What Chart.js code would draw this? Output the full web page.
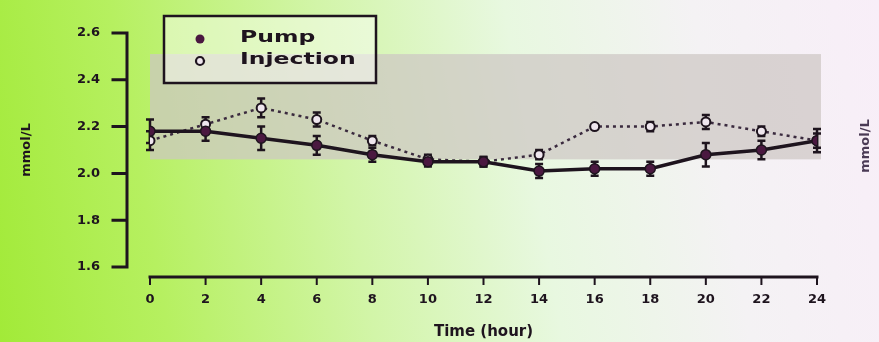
<!DOCTYPE html>
<html>
<head>
<meta charset="utf-8">
<script src="https://cdn.jsdelivr.net/npm/chart.js@4.4.1/dist/chart.umd.min.js"></script>
<style>
  html, body { margin: 0; padding: 0; }
  body {
    width: 879px; height: 342px; overflow: hidden;
    background: linear-gradient(80deg, #a2ea38 0%, #b6f060 18%, #d2f5a8 40%, #e8f8e0 60%, #f4f2f4 80%, #f8eef8 100%);
  }
</style>
</head>
<body>
<canvas id="chart" width="879" height="342"></canvas>
<script>
// datos
const hours = [0, 2, 4, 6, 8, 10, 12, 14, 16, 18, 20, 22, 24];
const xTickLabels = ["0", "2", "4", "6", "8", "10", "12", "14", "16", "18", "20", "22", "24"];
const yTicks = [1.6, 1.8, 2.0, 2.2, 2.4, 2.6];
const yTickLabels = ["1.6", "1.8", "2.0", "2.2", "2.4", "2.6"];

const pumpMean = [2.18, 2.18, 2.15, 2.12, 2.08, 2.05, 2.05, 2.01, 2.02, 2.02, 2.08, 2.10, 2.14];
const pumpErr  = [0.05, 0.04, 0.05, 0.04, 0.03, 0.02, 0.02, 0.03, 0.03, 0.03, 0.05, 0.04, 0.05];
const injMean  = [2.14, 2.21, 2.28, 2.23, 2.14, 2.06, 2.05, 2.08, 2.20, 2.20, 2.22, 2.18, 2.14];
const injErr   = [0.04, 0.03, 0.04, 0.03, 0.02, 0.02, 0.02, 0.02, 0.01, 0.02, 0.03, 0.02, 0.03];

// rango normal (banda gris)
const bandLow = 2.06;
const bandHigh = 2.51;

const ink = "#1e141e";
const fontFam = "'DejaVu Sans', 'Liberation Sans', Arial, sans-serif";

function puntos(means) {
    return hours.map((h, i) => ({ x: h, y: means[i] }));
}

// banda, barras de error, ejes, leyenda
const decoracion = {
    id: "decoracion",
    beforeDatasetsDraw(chart) {
        const { ctx, scales: { x, y } } = chart;
        ctx.save();
        ctx.fillStyle = "rgba(205, 198, 195, 0.72)";
        const x0 = x.getPixelForValue(0), x1 = x.getPixelForValue(24) + 4;
        const y0 = y.getPixelForValue(bandHigh), y1 = y.getPixelForValue(bandLow);
        ctx.fillRect(x0, y0, x1 - x0, y1 - y0);

        // barras de error
        const series = [[injMean, injErr], [pumpMean, pumpErr]];
        ctx.strokeStyle = ink;
        ctx.lineWidth = 2.5;
        series.forEach(([m, e]) => {
            hours.forEach((h, i) => {
                const px = x.getPixelForValue(h);
                const top = y.getPixelForValue(m[i] + e[i]);
                const bot = y.getPixelForValue(m[i] - e[i]);
                ctx.beginPath();
                ctx.moveTo(px, top); ctx.lineTo(px, bot);
                ctx.moveTo(px - 4, top); ctx.lineTo(px + 4, top);
                ctx.moveTo(px - 4, bot); ctx.lineTo(px + 4, bot);
                ctx.stroke();
            });
        });
        ctx.restore();
    },
    afterDraw(chart) {
        const { ctx, scales: { x, y } } = chart;
        ctx.save();
        ctx.strokeStyle = ink;
        ctx.lineWidth = 3;
        ctx.lineCap = "square";

        // eje y separado
        const ax = x.getPixelForValue(0) - 23;
        ctx.beginPath();
        ctx.moveTo(ax, y.getPixelForValue(2.6));
        ctx.lineTo(ax, y.getPixelForValue(1.6));
        yTicks.forEach(v => {
            const py = y.getPixelForValue(v);
            ctx.moveTo(ax - 14, py); ctx.lineTo(ax, py);
        });
        ctx.stroke();

        // eje x separado
        const ay = y.getPixelForValue(1.6) + 10;
        ctx.beginPath();
        ctx.moveTo(x.getPixelForValue(0), ay);
        ctx.lineTo(x.getPixelForValue(24), ay);
        ctx.stroke();
        ctx.lineWidth = 2;
        ctx.beginPath();
        hours.forEach(h => {
            const px = x.getPixelForValue(h);
            ctx.moveTo(px, ay); ctx.lineTo(px, ay + 7);
        });
        ctx.stroke();

        // leyenda
        ctx.fillStyle = "rgba(255, 255, 255, 0.45)";
        ctx.fillRect(164, 16, 212, 67);
        ctx.lineWidth = 2.5;
        ctx.strokeRect(164, 16, 212, 67);

        ctx.beginPath();
        ctx.arc(200, 39, 4.5, 0, Math.PI * 2);
        ctx.fillStyle = "#4a1840";
        ctx.fill();
        ctx.beginPath();
        ctx.arc(200, 61, 4, 0, Math.PI * 2);
        ctx.fillStyle = "#efe6ee";
        ctx.fill();
        ctx.lineWidth = 2.2;
        ctx.stroke();

        ctx.fillStyle = ink;
        ctx.font = "bold 16px " + fontFam;
        ctx.textBaseline = "middle";
        [["Pump", 38], ["Injection", 60]].forEach(([t, ty]) => {
            ctx.save();
            ctx.translate(240, ty);
            ctx.scale(1.47, 1);
            ctx.fillText(t, 0, 0);
            ctx.restore();
        });

        // etiqueta cortada a la derecha
        ctx.save();
        ctx.translate(866, 146);
        ctx.rotate(-Math.PI / 2);
        ctx.textAlign = "center";
        ctx.font = "bold 13px " + fontFam;
        ctx.fillStyle = "#4a3a55";
        ctx.fillText("mmol/L", 0, 0);
        ctx.restore();

        ctx.restore();
    }
};

new Chart(document.getElementById("chart"), {
    type: "line",
    data: {
        datasets: [
            {
                label: "Pump",
                data: puntos(pumpMean),
                borderColor: ink,
                borderWidth: 3.5,
                pointRadius: 5,
                pointBackgroundColor: "#4a1840",
                pointBorderColor: ink,
                pointBorderWidth: 1.5,
                tension: 0
            },
            {
                label: "Injection",
                data: puntos(injMean),
                borderColor: "#3a2a3e",
                borderWidth: 2.5,
                borderDash: [3, 4],
                pointRadius: 4.5,
                pointBackgroundColor: "#efe6ee",
                pointBorderColor: ink,
                pointBorderWidth: 2,
                tension: 0
            }
        ]
    },
    options: {
        responsive: false,
        animation: false,
        layout: { padding: { top: 33, right: 62, bottom: 0, left: 0 } },
        plugins: { legend: { display: false }, tooltip: { enabled: false } },
        scales: {
            x: {
                type: "linear",
                min: 0,
                max: 24,
                afterBuildTicks: s => { s.ticks = hours.map(v => ({ value: v })); },
                afterFit: s => { s.height = 75; },
                grid: { display: false },
                border: { display: false },
                ticks: {
                    callback: (v, i) => xTickLabels[i],
                    autoSkip: false,
                    maxRotation: 0,
                    padding: 17,
                    color: ink,
                    font: { family: fontFam, size: 13, weight: "bold" }
                },
                title: {
                    display: true,
                    text: "Time (hour)",
                    color: ink,
                    padding: { top: 0, bottom: 1 },
                    font: { family: fontFam, size: 15, weight: "bold" }
                }
            },
            y: {
                min: 1.6,
                max: 2.6,
                afterBuildTicks: s => { s.ticks = yTicks.map(v => ({ value: v })); },
                afterFit: s => { s.width = 150; s.paddingTop = 0; s.paddingBottom = 0; },
                grid: { display: false },
                border: { display: false },
                ticks: {
                    callback: (v, i) => yTickLabels[i],
                    padding: 42,
                    color: ink,
                    font: { family: fontFam, size: 13, weight: "bold" }
                },
                title: {
                    display: true,
                    text: "mmol/L",
                    color: ink,
                    padding: { top: 19, bottom: 0 },
                    font: { family: fontFam, size: 13, weight: "bold" }
                }
            }
        }
    },
    plugins: [decoracion]
});
</script>
</body>
</html>
